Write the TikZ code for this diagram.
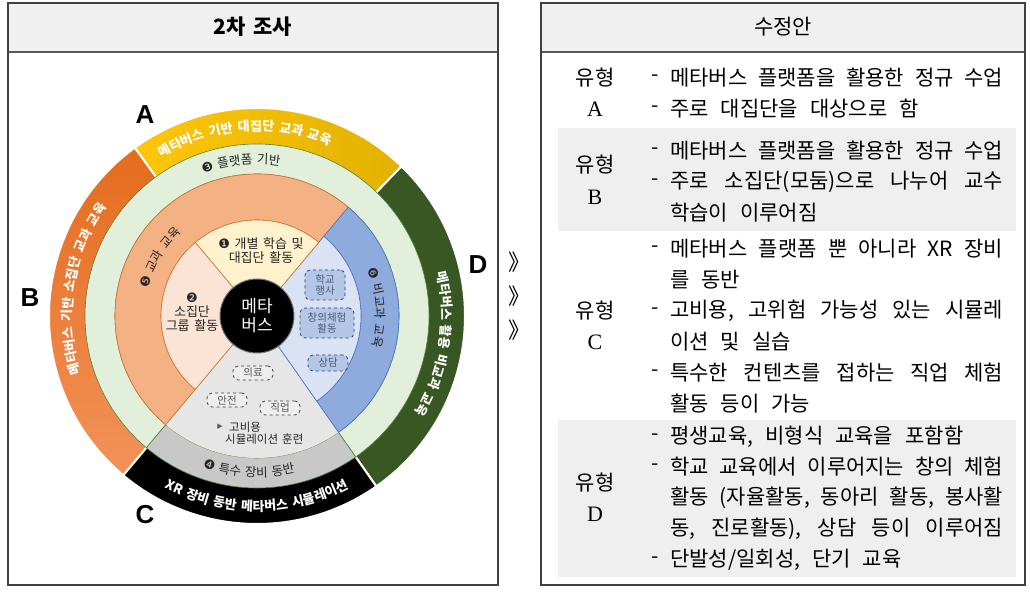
\documentclass[tikz,border=0pt]{standalone}
\usepackage{fontspec}
\setmainfont{Liberation Serif}
\newfontfamily\krd{Noto Sans CJK KR}
\newfontfamily\krt[WordSpace=1.6]{Noto Sans CJK KR}
\newfontfamily\djv{DejaVu Sans}
\newfontfamily\lsans{Liberation Sans}
\usetikzlibrary{decorations.text}
\definecolor{framec}{HTML}{404040}
\definecolor{hdrc}{HTML}{F0F0F0}
\definecolor{bgc}{HTML}{EFEFEF}
\definecolor{cAl}{HTML}{FFC60A}
\definecolor{cAr}{HTML}{E2B200}
\definecolor{cBt}{HTML}{E46C1C}
\definecolor{cBb}{HTML}{F3925A}
\definecolor{cD}{HTML}{385723}
\definecolor{cG}{HTML}{E2EFDA}
\definecolor{cGd}{HTML}{548235}
\definecolor{cGrb}{HTML}{C8C8C8}
\definecolor{cGra}{HTML}{E6E6E6}
\definecolor{cO}{HTML}{F4B183}
\definecolor{cOd}{HTML}{D0702A}
\definecolor{cBl}{HTML}{8FAADC}
\definecolor{cBld}{HTML}{4472C4}
\definecolor{cBll}{HTML}{DAE3F3}
\definecolor{cY}{HTML}{FFF2CC}
\definecolor{cP}{HTML}{FBE4D5}
\definecolor{bfc}{HTML}{B4C7E7}
\definecolor{bdc}{HTML}{2F3F6F}
\definecolor{btc}{HTML}{4A5A7A}
\definecolor{gfc}{HTML}{EEEEEE}
\definecolor{gdc}{HTML}{404040}
\definecolor{gtc}{HTML}{595959}
\definecolor{tc}{HTML}{262626}
\newcommand{\annsec}[5]{\path[#5] (#3:#2) arc[start angle=#3, end angle=#4, radius=#2] -- (#4:#1) arc[start angle=#4, end angle=#3, radius=#1] -- cycle;}
\newcommand{\piesec}[4]{\path[#4] (0,0) -- (#2:#1) arc[start angle=#2, end angle=#3, radius=#1] -- cycle;}
\newcommand{\arctxt}[5]{\path[decorate,decoration={text along path,text={#4},text align=center,text color=#5}] (#2:#1) arc[start angle=#2,end angle=#3,radius=#1];}
\newcommand{\fout}{\krd\bfseries\fontsize{13}{14}\selectfont}
\newcommand{\finn}{\krd\fontsize{12.5}{13}\selectfont}
\newcommand{\fnum}{\djv\fontsize{13}{13}\selectfont}
\begin{document}
\begin{tikzpicture}[x=1pt,y=1pt,
  frame/.style={draw=framec, line width=1.3pt},
  lbl/.style={font=\lsans\bfseries\fontsize{26}{26}\selectfont},
  tl/.style={anchor=west, inner sep=0pt, font=\krt\fontsize{21}{22}\selectfont},
  dsh/.style={inner sep=0pt, font=\krt\fontsize{21}{22}\selectfont},
  yh/.style={inner sep=0pt, font=\krt\fontsize{21}{22}\selectfont},
  yl/.style={inner sep=0pt, font=\fontsize{22}{22}\selectfont},
  bbox/.style={draw=bdc, dashed, fill=bfc, rounded corners=5pt, line width=0.8pt, font=\krd\fontsize{10.5}{11.5}\selectfont, text=btc, align=center, inner sep=1pt},
  gbox/.style={draw=gdc, dashed, fill=gfc, rounded corners=5pt, line width=0.8pt, font=\krd\fontsize{10.5}{11}\selectfont, text=gtc, align=center, inner sep=1pt, minimum width=40pt, minimum height=14pt},
  itx/.style={font=\krd\fontsize{13}{14}\selectfont, text=tc, align=center, inner sep=0pt},
  chev/.style={font=\krd\fontsize{22}{22}\selectfont, inner sep=0pt}]
\useasboundingbox (0,0) rectangle (1030,594);
\fill[white] (0,0) rectangle (1030,594);
% panels
\fill[hdrc] (8,542) rectangle (498,591);
\draw[line width=1.2pt, draw=black!65] (8,542) -- (498,542);
\draw[frame] (8,9) rectangle (498,591);
\fill[hdrc] (541,542) rectangle (1025,591);
\draw[line width=1.2pt, draw=black!65] (541,542) -- (1025,542);
\draw[frame] (541,9) rectangle (1025,591);
\node[font=\krd\bfseries\fontsize{21}{22}\selectfont] (t1) at (253,567) {2차 조사};
\node[font=\krd\fontsize{21}{22}\selectfont] (t2) at (783,567) {수정안};
% ring
\begin{scope}[shift={(257,278)}]
\annsec{170}{208}{46}{126}{left color=cAl, right color=cAr, draw=white, line width=2pt}
\annsec{170}{208}{126}{230}{top color=cBt, bottom color=cBb, draw=white, line width=2pt}
\annsec{170}{208}{305}{406}{fill=cD, draw=white, line width=2pt}
\annsec{170}{208}{230}{305}{fill=black, draw=white, line width=2pt}
\annsec{142}{172}{-55}{230}{fill=cG, draw=cGd, line width=0.6pt}
\annsec{142}{172}{230}{305}{fill=cGrb, draw=cGd, line width=0.6pt}
\annsec{96}{142}{50}{230}{fill=cO, draw=cOd, line width=0.6pt}
\annsec{104}{142}{-55}{50}{fill=cBl, draw=cBld, line width=0.6pt}
\piesec{104}{-55}{50}{fill=cBll, draw=cBld, line width=0.6pt}
\piesec{96}{50}{130}{fill=cY, draw=cOd, line width=0.6pt}
\piesec{96}{130}{230}{fill=cP, draw=cOd, line width=0.6pt}
\piesec{142}{230}{305}{fill=cGra}
\draw[cOd, line width=0.6pt] (0,0) -- (230:142);
\draw[cBld, line width=0.6pt] (0,0) -- (305:142);
\arctxt{185}{144}{44}{|\fout|메타버스 기반 대집단 교과 교육}{white}
\arctxt{185}{221}{121}{|\fout|메타버스 기반 소집단 교과 교육}{white}
\arctxt{185}{41}{-59}{|\fout|메타버스 활용 비교과 교육}{white}
\arctxt{195}{220}{320}{|\fout|XR 장비 동반 메타버스 시뮬레이션}{white}
\arctxt{152}{146}{46}{|\fnum|❸ |\finn|플랫폼 기반}{tc}
\arctxt{161}{217}{317}{|\fnum|❹ |\finn|특수 장비 동반}{tc}
\arctxt{112}{199}{99}{|\fnum|❺ |\finn|교과 교육}{tc}
\arctxt{119}{54}{-46}{|\fnum|❻ |\finn|비교과 교육}{tc}
\node[circle, fill=black, draw=black!55, line width=1pt, minimum size=74pt, inner sep=0pt, text=white, align=center, font=\krd\fontsize{17}{19}\selectfont] (meta) at (0,0) {메타\\버스};
\end{scope}
% inner texts
\node[itx] (n1) at (261,343) {{\djv\fontsize{13}{13}\selectfont ❶} 개별 학습 및\\대집단 활동};
\node[itx] (n2) at (192,282) {{\djv\fontsize{13}{13}\selectfont ❷}\\소집단\\그룹 활동};
\node[bbox, minimum width=40pt, minimum height=30pt] (bx1) at (325,309) {학교\\행사};
\node[bbox, minimum width=54pt, minimum height=30pt] (bx2) at (327,271) {창의체험\\활동};
\node[bbox, minimum width=40pt, minimum height=16pt] (bx3) at (328,231) {상담};
\node[gbox] (gx1) at (253,221) {의료};
\node[gbox] (gx2) at (227,194) {안전};
\node[gbox] (gx3) at (280,186) {직업};
\node[font=\djv\fontsize{7}{8}\selectfont, text=gtc, inner sep=0pt] (tri) at (220,167) {▶};
\node[anchor=west, inner sep=0pt, font=\krd\fontsize{11.5}{12}\selectfont, text=tc] (hb1) at (229,167) {고비용};
\node[anchor=west, inner sep=0pt, font=\krd\fontsize{11.5}{12}\selectfont, text=tc] (hb2) at (225,155) {시뮬레이션 훈련};
% letters
\node[lbl] (labA) at (145,479) {A};
\node[lbl] (labB) at (30,296) {B};
\node[lbl] (labC) at (145,79) {C};
\node[lbl] (labD) at (478,329) {D};
% chevrons
\node[chev] (ch1) at (519,332) {》};
\node[chev] (ch2) at (519,298) {》};
\node[chev] (ch3) at (519,264) {》};
% right table
\fill[bgc] (558,363) rectangle (1016,466);
\fill[bgc] (558,17) rectangle (1016,174);
\node[yh] (yA) at (595,516) {유형};
\node[yl] (lA) at (595,485) {A};
\node[dsh] (dA1) at (655,516) {-};
\node[tl] (tA1) at (670,516) {\makebox[333pt][s]{메타버스 플랫폼을 활용한 정규 수업}};
\node[dsh] (dA2) at (655,485) {-};
\node[tl] (tA2) at (670,485) {주로 대집단을 대상으로 함};
\node[yh] (yB) at (595,429) {유형};
\node[yl] (lB) at (595,397) {B};
\node[dsh] (dB1) at (655,443) {-};
\node[tl] (tB1) at (670,443) {\makebox[333pt][s]{메타버스 플랫폼을 활용한 정규 수업}};
\node[dsh] (dB2) at (655,412) {-};
\node[tl] (tB2) at (670,412) {\makebox[333pt][s]{주로 소집단(모둠)으로 나누어 교수}};
\node[tl] (tB3) at (670,381) {학습이 이루어짐};
\node[yh] (yC) at (595,283) {유형};
\node[yl] (lC) at (595,252) {C};
\node[dsh] (dC1) at (655,345) {-};
\node[tl] (tC1) at (670,345) {\makebox[333pt][s]{메타버스 플랫폼 뿐 아니라 XR 장비}};
\node[tl] (tC2) at (670,314) {를 동반};
\node[dsh] (dC3) at (655,283) {-};
\node[tl] (tC3) at (670,283) {\makebox[333pt][s]{고비용, 고위험 가능성 있는 시뮬레}};
\node[tl] (tC4) at (670,252) {이션 및 실습};
\node[dsh] (dC5) at (655,221) {-};
\node[tl] (tC5) at (670,221) {\makebox[333pt][s]{특수한 컨텐츠를 접하는 직업 체험}};
\node[tl] (tC6) at (670,190) {활동 등이 가능};
\node[yh] (yD) at (595,111) {유형};
\node[yl] (lD) at (595,80) {D};
\node[dsh] (dD1) at (655,157) {-};
\node[tl] (tD1) at (670,157) {평생교육, 비형식 교육을 포함함};
\node[dsh] (dD2) at (655,127) {-};
\node[tl] (tD2) at (670,127) {\makebox[333pt][s]{학교 교육에서 이루어지는 창의 체험}};
\node[tl] (tD3) at (670,96) {\makebox[333pt][s]{활동 (자율활동, 동아리 활동, 봉사활}};
\node[tl] (tD4) at (670,65) {\makebox[333pt][s]{동, 진로활동), 상담 등이 이루어짐}};
\node[dsh] (dD5) at (655,34) {-};
\node[tl] (tD5) at (670,34) {단발성/일회성, 단기 교육};
\end{tikzpicture}
\end{document}
